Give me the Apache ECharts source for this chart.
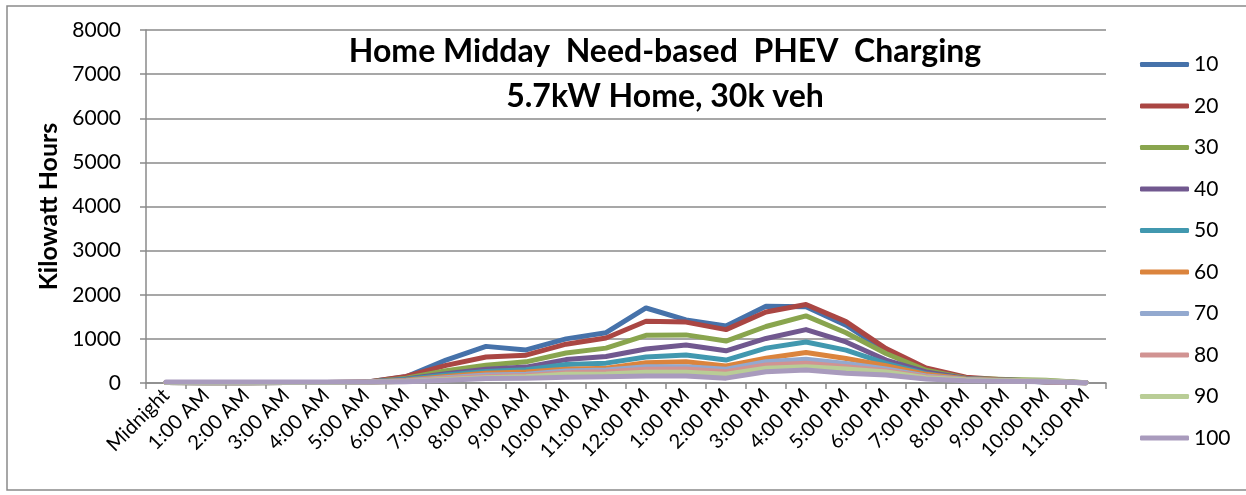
<!DOCTYPE html>
<html>
<head>
<meta charset="utf-8">
<title>Home Midday Need-based PHEV Charging</title>
<script src="https://cdn.jsdelivr.net/npm/echarts@6/dist/echarts.min.js"></script>
<style>
    html, body { margin: 0; padding: 0; background: #fff; }
    #chart { width: 1246px; height: 495px; }
</style>
</head>
<body>
<div id="chart"></div>
<script>
    // hours of the day
    var hours = ['Midnight', '1:00 AM', '2:00 AM', '3:00 AM', '4:00 AM', '5:00 AM', '6:00 AM', '7:00 AM',
        '8:00 AM', '9:00 AM', '10:00 AM', '11:00 AM', '12:00 PM', '1:00 PM', '2:00 PM', '3:00 PM',
        '4:00 PM', '5:00 PM', '6:00 PM', '7:00 PM', '8:00 PM', '9:00 PM', '10:00 PM', '11:00 PM'];

    var seriesNames = ['10', '20', '30', '40', '50', '60', '70', '80', '90', '100'];

    // kWh per hour
    var s10 = [10, 5, 5, 10, 10, 20, 140, 520, 830, 750, 1000, 1140, 1700, 1430, 1290, 1740, 1730, 1310, 720, 250, 110, 60, 20, 5];
    var s20 = [10, 5, 5, 10, 10, 20, 150, 400, 590, 630, 880, 1020, 1400, 1380, 1210, 1610, 1780, 1390, 780, 340, 130, 70, 30, 5];
    var s30 = [10, 5, 5, 10, 10, 15, 110, 280, 400, 480, 680, 790, 1080, 1090, 950, 1280, 1520, 1140, 670, 290, 110, 80, 60, 5];
    var s40 = [10, 5, 5, 10, 10, 15, 90, 210, 310, 360, 530, 600, 770, 860, 730, 1010, 1210, 930, 520, 250, 100, 70, 40, 5];
    var s50 = [10, 5, 5, 10, 10, 15, 80, 180, 260, 300, 420, 450, 590, 635, 520, 790, 930, 745, 445, 210, 90, 60, 30, 5];
    var s60 = [10, 5, 5, 10, 10, 15, 60, 150, 220, 250, 310, 335, 460, 480, 385, 560, 690, 557, 390, 196, 90, 60, 30, 5];
    var s70 = [10, 5, 5, 10, 10, 15, 50, 120, 180, 200, 270, 295, 370, 370, 310, 484, 540, 445, 320, 160, 80, 50, 30, 5];
    var s80 = [10, 5, 5, 10, 10, 15, 40, 100, 150, 170, 230, 257, 310, 317, 257, 408, 450, 370, 280, 140, 70, 50, 30, 5];
    var s90 = [10, 5, 5, 10, 10, 15, 35, 80, 120, 140, 200, 204, 242, 242, 197, 333, 370, 316, 250, 120, 70, 50, 50, 5];
    var s100 = [20, 20, 20, 20, 20, 20, 30, 60, 100, 110, 130, 143, 160, 160, 110, 257, 295, 219, 181, 90, 50, 40, 30, 5];

    var allData = [s10, s20, s30, s40, s50, s60, s70, s80, s90, s100];
    var colors = ['#4672AA', '#AA4643', '#89A54E', '#71588F', '#4198AF', '#DB843D', '#93A9CF', '#D19392', '#B9CD96', '#A99BBD'];

    var font = 'Lato, "Open Sans", sans-serif';
    var gray = '#8a8a8a';

    var series = [];
    for (var i = 0; i < seriesNames.length; i++) {
        series.push({
            name: seriesNames[i],
            type: 'line',
            data: allData[i],
            symbol: 'none',
            lineStyle: { width: 5, color: colors[i], cap: 'round', join: 'round' },
            itemStyle: { color: colors[i] }
        });
    }

    var chart = echarts.init(document.getElementById('chart'));
    var option = {
        animation: false,
        backgroundColor: '#fff',
        title: {
            text: 'Home Midday  Need-based  PHEV  Charging\n5.7kW Home, 30k veh',
            left: 660,
            top: 24,
            textAlign: 'center',
            textStyle: { fontFamily: font, fontSize: 32, fontWeight: 'bold', color: '#000', lineHeight: 45 }
        },
        legend: {
            orient: 'vertical',
            left: 1135,
            top: 49,
            icon: 'roundRect',
            itemWidth: 49,
            itemHeight: 5,
            itemGap: 20.5,
            data: seriesNames,
            textStyle: { fontFamily: font, fontSize: 21, color: '#000', lineHeight: 20 }
        },
        graphic: [{
            type: 'rect',
            shape: { x: 7, y: 6, width: 1250, height: 484 },
            style: { fill: null, stroke: gray, lineWidth: 1.5 },
            silent: true
        }],
        grid: { left: 146, right: 140, top: 30, bottom: 112 },
        xAxis: {
            type: 'category',
            data: hours,
            boundaryGap: true,
            axisLine: { lineStyle: { color: gray, width: 1.5 } },
            axisTick: { show: true, length: 6, interval: 0, lineStyle: { color: gray, width: 1.5 } },
            axisLabel: { interval: 0, rotate: 45, margin: 9, fontFamily: font, fontSize: 20, color: '#000' }
        },
        yAxis: {
            type: 'value',
            min: 0,
            max: 8000,
            interval: 1000,
            name: 'Kilowatt Hours',
            nameLocation: 'middle',
            nameGap: 76,
            nameRotate: 90,
            nameTextStyle: { fontFamily: font, fontSize: 25, fontWeight: 'bold', color: '#000' },
            axisLine: { show: true, lineStyle: { color: gray, width: 1.5 } },
            axisTick: { show: true, length: 6, lineStyle: { color: gray, width: 1.5 } },
            axisLabel: {
                margin: 25,
                fontFamily: font,
                fontSize: 21,
                color: '#000',
                formatter: function (v) { return String(v); }
            },
            splitLine: { lineStyle: { color: gray, width: 1.5 } }
        },
        series: series
    };
    chart.setOption(option);
</script>
</body>
</html>
